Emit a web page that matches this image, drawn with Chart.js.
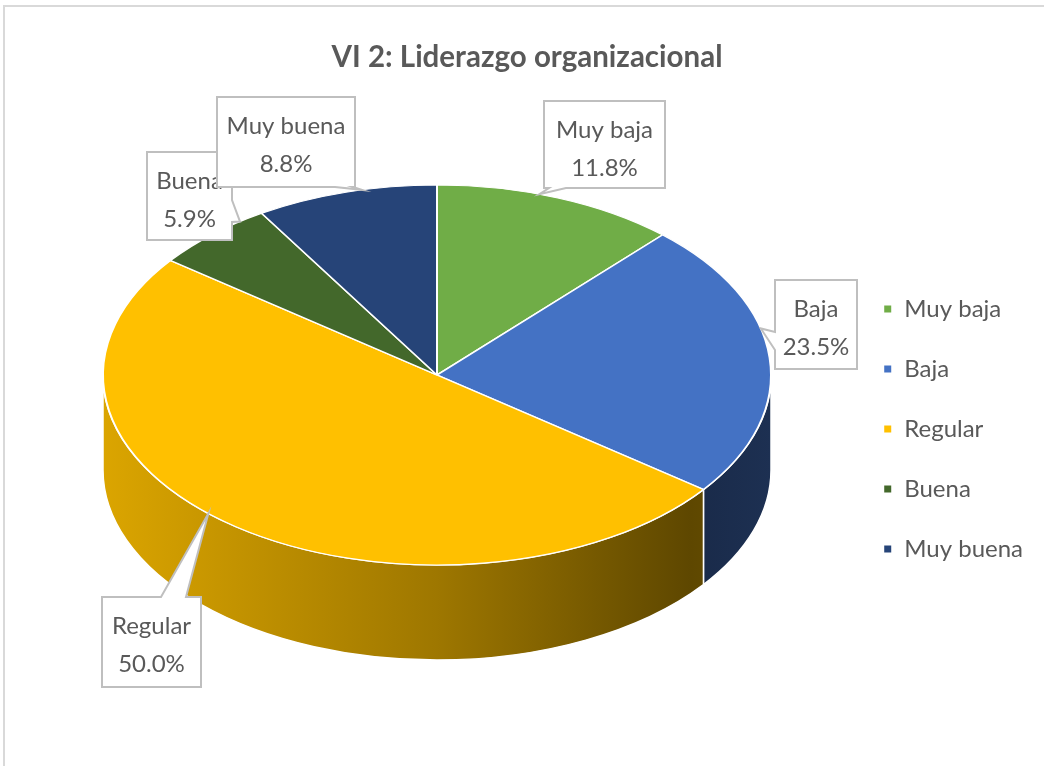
<!DOCTYPE html>
<html><head><meta charset="utf-8">
<script src="https://cdn.jsdelivr.net/npm/chart.js@4.4.1/dist/chart.umd.min.js"></script>
<style>
html,body{margin:0;padding:0;background:#fff;overflow:hidden;}
#wrap{position:relative;width:1044px;height:766px;}
#frame{position:absolute;left:3px;top:5px;width:1100px;height:800px;border-top:2px solid #d9d9d9;border-left:2px solid #d9d9d9;}
canvas{position:absolute;left:0;top:0;}
</style></head><body>
<div id="wrap"><div id="frame"></div><canvas id="c" width="1044" height="766"></canvas></div>
<script>
// ---- data ----
const titleText = 'VI 2: Liderazgo organizacional';
const categories = ['Muy baja', 'Baja', 'Regular', 'Buena', 'Muy buena'];
const percentages = [11.8, 23.5, 50.0, 5.9, 8.8];
const sliceColors = ['#70AD47', '#4472C4', '#FFC000', '#43682B', '#264478'];

// ---- layout / style (not data) ----
const GEOM = { cx: 437, cy: 375, rx: 334, ry: 190, depth: 95 };
const FONT = 'Lato, "Open Sans", sans-serif';
const TEXT_COLOR = '#595959';
// callout boxes: box rect, tail side + base positions along that side, tip fraction along slice
const CALLOUTS = [
  { box: [544, 101, 121, 87], side: 'bottom', t: [5, 22], frac: 0.42 },
  { box: [775, 280, 82, 89], side: 'left', t: [52, 70], frac: 0.394 },
  { box: [102, 597, 99, 90], side: 'top', t: [59, 84], frac: 0.534 },
  { box: [147, 152, 85, 88], side: 'right', t: [48, 70], frac: 0.79 },
  { box: [217, 97, 138, 90], side: 'bottom', t: [118, 136], frac: 0.59 }
];
const DRAW_ORDER = [0, 1, 2, 3, 4];

function shade(hex, f) {
  const n = parseInt(hex.slice(1), 16);
  const r = Math.round(((n >> 16) & 255) * f), g = Math.round(((n >> 8) & 255) * f), b = Math.round((n & 255) * f);
  return `rgb(${r},${g},${b})`;
}

const pie3d = {
  id: 'pie3d',
  beforeDatasetsDraw(chart) {
    const ctx = chart.ctx;
    const meta = chart.getDatasetMeta(0);
    const a0 = meta.data[0];
    const { cx, cy, rx, ry, depth } = GEOM;
    // side walls (front half only)
    meta.data.forEach((arc, i) => {
      const s = arc.startAngle, e = arc.endAngle;
      [[0, Math.PI], [2 * Math.PI, 3 * Math.PI]].forEach(([lo, hi]) => {
        const a = Math.max(s, lo), b = Math.min(e, hi);
        if (b <= a) return;
        const grad = ctx.createLinearGradient(cx - rx, 0, cx + rx, 0);
        const col = sliceColors[i];
        grad.addColorStop(0, shade(col, 0.86));
        grad.addColorStop(0.5, shade(col, 0.62));
        grad.addColorStop(0.88, shade(col, 0.37));
        grad.addColorStop(1, shade(col, 0.42));
        ctx.save();
        ctx.beginPath();
        ctx.ellipse(cx, cy, rx, ry, 0, a, b, false);
        ctx.lineTo(cx + rx * Math.cos(b), cy + ry * Math.sin(b) + depth);
        ctx.ellipse(cx, cy + depth, rx, ry, 0, b, a, true);
        ctx.closePath();
        ctx.fillStyle = grad;
        ctx.fill();
        ctx.strokeStyle = '#ffffff';
        ctx.lineWidth = 1.5;
        ctx.stroke();
        ctx.restore();
      });
    });
    // flatten the top face into an ellipse
    ctx.save();
    const R = a0.outerRadius;
    ctx.translate(cx, cy);
    ctx.scale(rx / R, ry / R);
    ctx.translate(-a0.x, -a0.y);
  },
  afterDatasetsDraw(chart) {
    chart.ctx.restore();
  },
  afterDraw(chart) {
    const ctx = chart.ctx;
    const meta = chart.getDatasetMeta(0);
    const { cx, cy, rx, ry } = GEOM;
    const total = percentages.reduce((p, v) => p + v, 0);
    DRAW_ORDER.forEach(i => {
      const c = CALLOUTS[i];
      const arc = meta.data[i];
      const th = arc.startAngle + c.frac * (arc.endAngle - arc.startAngle);
      const tip = [cx + rx * Math.cos(th), cy + ry * Math.sin(th)];
      const [x, y, w, h] = c.box;
      const [t1, t2] = c.t;
      const pts = [[x, y]];
      if (c.side === 'top') pts.push([x + t1, y], tip, [x + t2, y]);
      pts.push([x + w, y]);
      if (c.side === 'right') pts.push([x + w, y + t1], tip, [x + w, y + t2]);
      pts.push([x + w, y + h]);
      if (c.side === 'bottom') pts.push([x + t2, y + h], tip, [x + t1, y + h]);
      pts.push([x, y + h]);
      if (c.side === 'left') pts.push([x, y + t2], tip, [x, y + t1]);
      ctx.save();
      ctx.beginPath();
      pts.forEach((p, k) => k ? ctx.lineTo(p[0], p[1]) : ctx.moveTo(p[0], p[1]));
      ctx.closePath();
      ctx.fillStyle = '#ffffff';
      ctx.fill();
      ctx.strokeStyle = '#BFBFBF';
      ctx.lineWidth = 2;
      ctx.stroke();
      ctx.fillStyle = TEXT_COLOR;
      ctx.font = `24px ${FONT}`;
      ctx.textAlign = 'center';
      ctx.textBaseline = 'alphabetic';
      const pct = (percentages[i] / total * 100).toFixed(1) + '%';
      ctx.fillText(categories[i], x + w / 2, y + 37);
      ctx.fillText(pct, x + w / 2, y + 75);
      ctx.restore();
    });
  }
};

new Chart(document.getElementById('c'), {
  type: 'pie',
  data: {
    labels: categories,
    datasets: [{
      data: percentages,
      backgroundColor: sliceColors,
      borderColor: '#ffffff',
      borderWidth: 2,
      clip: false
    }]
  },
  options: {
    responsive: false,
    animation: false,
    layout: { padding: { left: 21, right: 11, top: 0, bottom: -92 } },
    plugins: {
      title: {
        display: true,
        text: titleText,
        color: TEXT_COLOR,
        font: { family: FONT, size: 29.5, weight: 'bold' },
        padding: { top: 40, bottom: 20 }
      },
      legend: {
        position: 'right',
        align: 'center',
        labels: {
          boxWidth: 9,
          boxHeight: 9,
          padding: 36,
          color: TEXT_COLOR,
          font: { family: FONT, size: 24 }
        }
      },
      tooltip: { enabled: false }
    }
  },
  plugins: [pie3d]
});
</script>
</body></html>
